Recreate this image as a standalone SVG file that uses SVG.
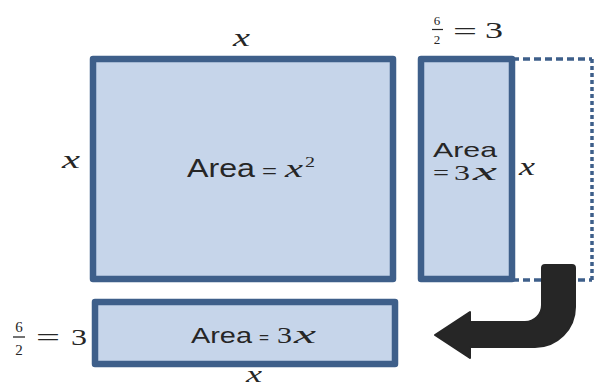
<svg xmlns="http://www.w3.org/2000/svg" width="594" height="388" viewBox="0 0 594 388">
<style>
.box{fill:#C6D5EA;stroke:#3E5F8A;stroke-width:6.5;stroke-linejoin:round}
.dash{fill:none;stroke:#3E5F8A;stroke-width:3.5}
.sans{font-family:"Liberation Sans",Arial,sans-serif;fill:#262626}
.math{font-family:"Liberation Serif","DejaVu Serif",serif;font-style:italic;fill:#262626}
.num{font-family:"Liberation Serif","DejaVu Serif",serif;fill:#262626}
</style>
<rect width="594" height="388" fill="#ffffff"/>
<g id="big-square">
<rect class="box" x="93" y="59" width="300" height="220"/>
<text class="sans" x="187" y="177" font-size="25" textLength="68" lengthAdjust="spacingAndGlyphs">Area</text>
<text class="sans" x="262" y="177" font-size="18" textLength="15" lengthAdjust="spacingAndGlyphs">=</text>
<text class="math" x="285" y="177" font-size="26" textLength="18" lengthAdjust="spacingAndGlyphs">x</text>
<text class="num" x="305" y="167" font-size="15" textLength="10" lengthAdjust="spacingAndGlyphs">2</text>
</g>
<g id="thin-rect">
<rect class="box" x="421" y="59" width="91" height="220"/>
<text class="sans" x="433" y="157" font-size="21" textLength="64" lengthAdjust="spacingAndGlyphs">Area</text>
<text class="num" x="433" y="180" font-size="22" textLength="16" lengthAdjust="spacingAndGlyphs">=</text>
<text class="num" x="454" y="180" font-size="22" textLength="16" lengthAdjust="spacingAndGlyphs">3</text>
<text class="math" x="473" y="180" font-size="26" textLength="24" lengthAdjust="spacingAndGlyphs">x</text>
</g>
<g id="dashed-rect">
<path class="dash" d="M512,59 H592" stroke-dasharray="7 4"/>
<path class="dash" d="M512,280 H592" stroke-dasharray="7 4"/>
<path class="dash" d="M592,59 V280" stroke-width="2.5" stroke-dasharray="4 3"/>
</g>
<g id="bottom-rect">
<rect class="box" x="95" y="302" width="300" height="62"/>
<text class="sans" x="191" y="343" font-size="22" textLength="61" lengthAdjust="spacingAndGlyphs">Area</text>
<text class="sans" x="259" y="343" font-size="16" textLength="10" lengthAdjust="spacingAndGlyphs">=</text>
<text class="num" x="277" y="343" font-size="23" textLength="15" lengthAdjust="spacingAndGlyphs">3</text>
<text class="math" x="294" y="343" font-size="26" textLength="22" lengthAdjust="spacingAndGlyphs">x</text>
</g>
<g id="labels">
<text class="math" x="233" y="46" font-size="26" textLength="17" lengthAdjust="spacingAndGlyphs">x</text>
<text class="math" x="62" y="168" font-size="26" textLength="18" lengthAdjust="spacingAndGlyphs">x</text>
<text class="math" x="519" y="175" font-size="26" textLength="16" lengthAdjust="spacingAndGlyphs">x</text>
<text class="math" x="246" y="382" font-size="24" textLength="16" lengthAdjust="spacingAndGlyphs">x</text>
<g id="frac-top">
<text class="num" x="437" y="25" font-size="13" text-anchor="middle">6</text>
<line x1="432" y1="29.5" x2="443" y2="29.5" stroke="#262626" stroke-width="1.2"/>
<text class="num" x="437" y="44" font-size="13" text-anchor="middle">2</text>
<text class="num" x="453" y="39" font-size="24" textLength="24" lengthAdjust="spacingAndGlyphs">=</text>
<text class="num" x="485" y="38" font-size="23" textLength="18" lengthAdjust="spacingAndGlyphs">3</text>
</g>
<g id="frac-left">
<text class="num" x="19" y="332" font-size="15" text-anchor="middle">6</text>
<line x1="13" y1="337" x2="25" y2="337" stroke="#262626" stroke-width="1.3"/>
<text class="num" x="19" y="355" font-size="15" text-anchor="middle">2</text>
<text class="num" x="36" y="346" font-size="25" textLength="24" lengthAdjust="spacingAndGlyphs">=</text>
<text class="num" x="71" y="345" font-size="24" textLength="16" lengthAdjust="spacingAndGlyphs">3</text>
</g>
</g>
<g id="connectors">
<path d="M545,265 L572,265 Q575,265 575,268 L575,307 A40,40 0 0 1 535,347 L470,347 L470,358 L435,335 L470,312 L470,322 L525,322 A17,17 0 0 0 542,305 L542,268 Q542,265 545,265 Z" fill="#262626" stroke="#262626" stroke-width="2" stroke-linejoin="round"/>
</g>
</svg>
